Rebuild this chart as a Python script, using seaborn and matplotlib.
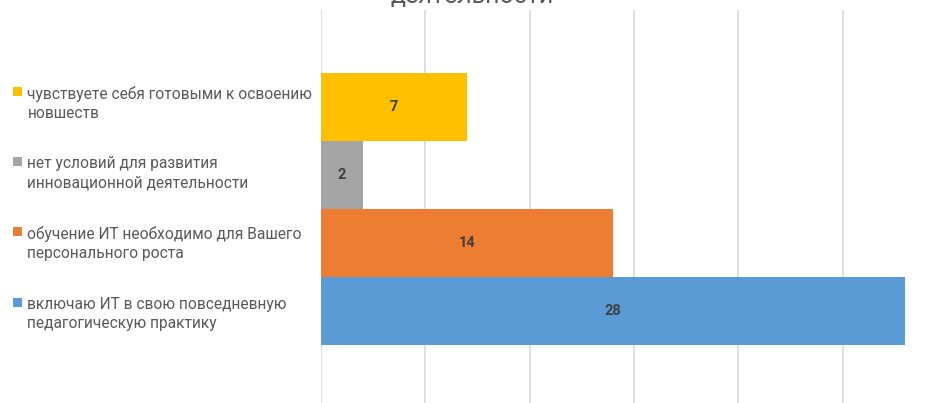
import numpy as np
import pandas as pd
import matplotlib
matplotlib.use("Agg")
import matplotlib.pyplot as plt
import seaborn as sns
from matplotlib.patches import Patch, Rectangle
from matplotlib.legend_handler import HandlerBase

# data, top to bottom as in the reference
LABELS = [
    "чувствуете себя готовыми к освоению\nновшеств",
    "нет условий для развития\nинновационной деятельности",
    "обучение ИТ необходимо для Вашего\nперсонального роста",
    "включаю ИТ в свою повседневную\nпедагогическую практику",
]
VALUES = [7, 2, 14, 28]
COLORS = ["#FFC000", "#A5A5A5", "#ED7D31", "#5B9BD5"]
TITLE = "деятельности"
X_TICKS = [0, 5, 10, 15, 20, 25, 30]

LEG_FS = 11.2
LINESP = 1.36


class FirstLineSquare(HandlerBase):
    # square marker next to the first line of a two-line label
    def create_artists(self, legend, orig_handle, xdescent, ydescent,
                       width, height, fontsize, trans):
        s = 0.58 * fontsize
        shift = 0.5 * LINESP * fontsize * 1.17
        x0 = -xdescent + (width - s) / 2
        y0 = -ydescent + height / 2 - s / 2 + shift
        r = Rectangle((x0, y0), s, s, facecolor=orig_handle.get_facecolor(),
                      edgecolor="none", transform=trans)
        return [r]


sns.set_style("white")
plt.rcParams["font.family"] = ["Roboto", "DejaVu Sans"]

W, H = 934, 403
fig = plt.figure(figsize=(W / 100, H / 100), dpi=100)
ax = fig.add_axes([321 / W, -5 / H, 626 / W, 398 / H])

df = pd.DataFrame({"label": LABELS, "value": VALUES})
sns.barplot(data=df, x="value", y="label", hue="label", palette=COLORS,
            width=1.0, legend=False, ax=ax, saturation=1, edgecolor="none")

ax.set_xlim(0, 30)
ax.set_ylim(4.426, -1.426)
ax.set_xticks(X_TICKS)
ax.grid(axis="x", color="#D9D9D9", linewidth=1.2)
ax.set_axisbelow(True)
ax.set_xlabel("")
ax.set_ylabel("")
ax.set_yticks([])
ax.tick_params(axis="x", length=0, labelbottom=False)
for sp in ax.spines.values():
    sp.set_visible(False)

for cont in ax.containers:
    ax.bar_label(cont, label_type="center", color="#404040",
                 fontsize=10.5, fontweight="bold")

handles = [Patch(facecolor=c, edgecolor="none") for c in COLORS]
leg = fig.legend(handles, LABELS, loc="upper left",
                 bbox_to_anchor=(-1.5 / W, 1 - 71.5 / H), frameon=False,
                 fontsize=LEG_FS, handlelength=0.6, handleheight=0.6,
                 handletextpad=0.36, labelspacing=2.28, labelcolor="#595959",
                 handler_map={Patch: FirstLineSquare()})
for t in leg.get_texts():
    t.set_linespacing(LINESP)

fig.text(0.505, 1 - 3 / H, TITLE, ha="center", va="baseline",
         fontsize=18, color="#595959")

fig.savefig("out.png", dpi=100)
